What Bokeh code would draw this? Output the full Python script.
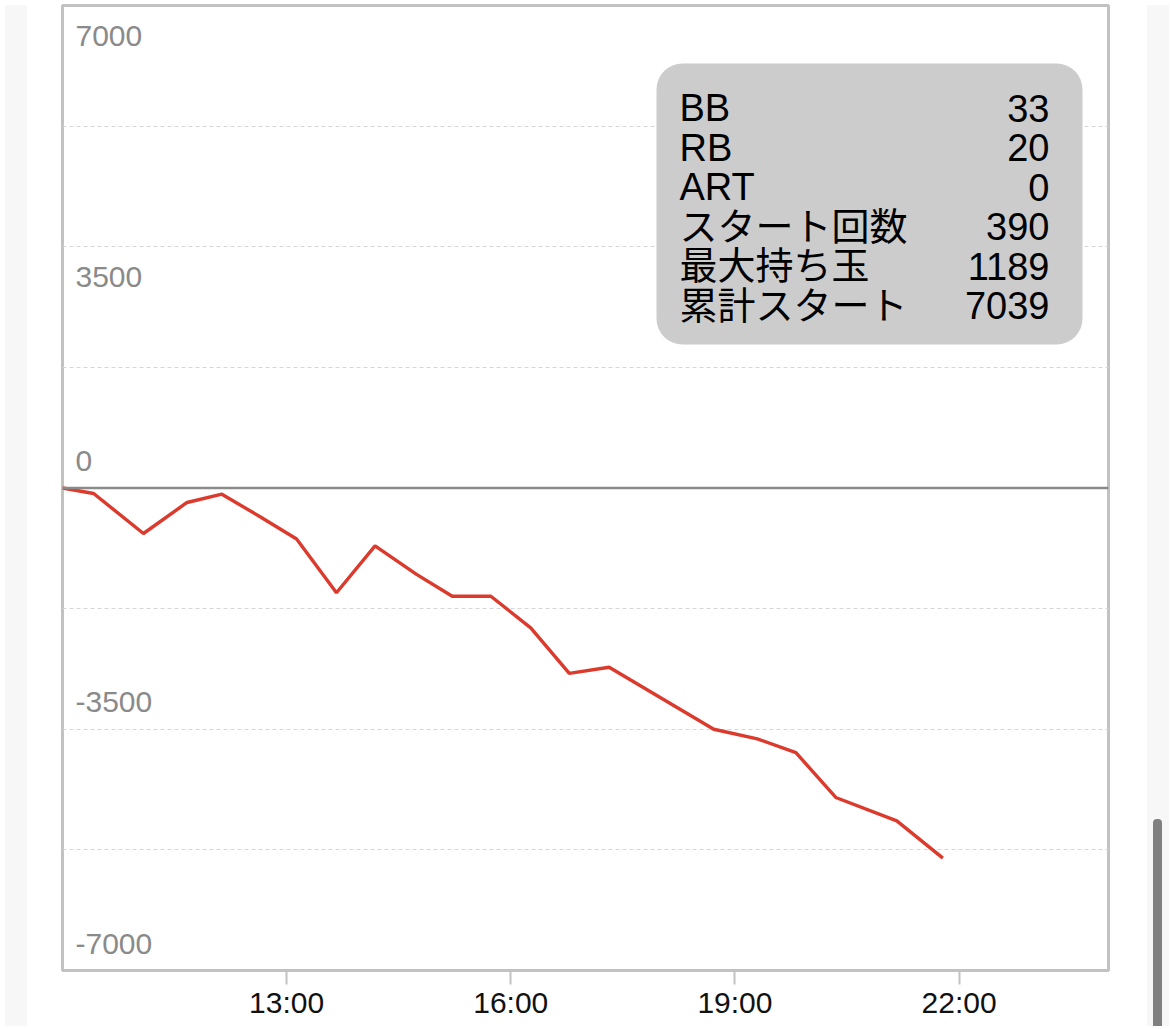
from bokeh.plotting import figure
from bokeh.models import (Range1d, FixedTicker, Span, BoxAnnotation, ColumnDataSource, Div)
from bokeh.layouts import row
from bokeh.core.properties import value
from bokeh.embed import file_html
from bokeh.resources import INLINE

# ---------------- data ----------------
times = ["10:00", "10:25", "11:05", "11:40", "12:08", "12:39", "13:08", "13:40",
         "14:11", "14:44", "15:13", "15:44", "16:16", "16:47", "17:19", "18:43",
         "19:18", "19:49", "20:21", "21:10", "21:47"]
diff = [0, -80, -660, -210, -90, -420, -740, -1520, -840, -1250, -1570, -1570,
        -2030, -2690, -2600, -3500, -3640, -3840, -4490, -4830, -5370]

x_ticks = [13, 16, 19, 22]
x_tick_labels = ["13:00", "16:00", "19:00", "22:00"]
y_label_vals = [7000, 3500, 0, -3500, -7000]
y_grid_vals = [-5250, -3500, -1750, 1750, 3500, 5250]

stat_labels = ["BB", "RB", "ART", "スタート回数", "最大持ち玉", "累計スタート"]
stat_values = ["33", "20", "0", "390", "1189", "7039"]

# ---------------- helpers ----------------
def to_hours(t):
    h, m = t.split(":")
    return int(h) + int(m) / 60.0

X0, X1, Y0, Y1 = 10, 24, -7000, 7000
RX0, RX1, RY0, RY1 = 62.0, 1108.0, 6.0, 971.0
def px2x(px):
    return X0 + (px - RX0) / (RX1 - RX0) * (X1 - X0)
def py2y(py):
    return Y1 - (py - RY0) / (RY1 - RY0) * (Y1 - Y0)

LATIN = "Liberation Sans"
MIXED = "Liberation Sans, Noto Sans CJK JP"
H = 1021

p = figure(width=1110, height=H, output_backend="svg", toolbar_location=None,
           x_range=Range1d(X0, X1), y_range=Range1d(Y0, Y1),
           min_border_left=30, min_border_right=34, min_border_top=5, min_border_bottom=50)
p.background_fill_color = "white"
p.border_fill_color = "white"
p.outline_line_color = "#c2c2c2"
p.outline_line_width = 3

p.yaxis.visible = False
xa = p.xaxis[0]
xa.ticker = FixedTicker(ticks=x_ticks)
xa.major_label_overrides = {t: l for t, l in zip(x_ticks, x_tick_labels)}
xa.axis_line_color = None
xa.minor_tick_line_color = None
xa.major_tick_in = 0
xa.major_tick_out = 14
xa.major_tick_line_color = "#c2c2c2"
xa.major_tick_line_width = 2
xa.major_label_standoff = 1
xa.major_label_text_font = LATIN
xa.major_label_text_font_size = "30px"
xa.major_label_text_color = "#111111"

p.xgrid.visible = False
p.ygrid.ticker = FixedTicker(ticks=y_grid_vals)
p.ygrid.grid_line_color = "#d6d6d6"
p.ygrid.grid_line_dash = "4 3"
p.ygrid.grid_line_width = 1

p.add_layout(Span(location=0, dimension="width", line_color="#8a8a8a", line_width=2.5))

ysrc = ColumnDataSource(dict(
    x=[X0] * len(y_label_vals),
    y=y_label_vals,
    t=[str(v) for v in y_label_vals],
    off=[30 if v > 0 else -27 for v in y_label_vals],
))
p.text(x="x", y="y", text="t", source=ysrc, x_offset=13, y_offset="off",
       text_font=value(LATIN), text_font_size="30px", text_color="#8a8a8a",
       text_baseline="alphabetic", text_align="left")

hours = [to_hours(t) for t in times]
p.line(hours, diff, line_color="#db3a2c", line_width=3.4)

box = BoxAnnotation(left=px2x(656), right=px2x(1082), top=py2y(64), bottom=py2y(345),
                    fill_color="#cccccc", fill_alpha=1.0, line_color=None,
                    border_radius=26)
p.add_layout(box)

row_base = [py2y(120.5 + 39.5 * i) for i in range(len(stat_labels))]
r1 = p.text(x=[px2x(679)] * len(stat_labels), y=row_base, text=stat_labels,
            y_offset=-12,
            text_font=value(MIXED), text_font_size="38px", text_color="black",
            text_baseline="alphabetic", text_align="left")
r2 = p.text(x=[px2x(1049)] * len(stat_values), y=row_base, text=stat_values,
            y_offset=-12,
            text_font=value(LATIN), text_font_size="38px", text_color="black",
            text_baseline="alphabetic", text_align="right")
r1.level = "overlay"
r2.level = "overlay"

left_strip = Div(text="", width=22, height=H,
                 styles={"background-color": "#f7f7f7"})
right_strip = Div(
    text='<div style="margin:0;padding-top:814px;padding-left:6px;">'
         '<div style="width:9px;height:210px;background:#808080;border-radius:4px 4px 0 0;"></div></div>',
    width=22, height=H, styles={"background-color": "#f7f7f7", "overflow": "hidden"})

layout = row(left_strip, p, right_strip)
open("out.html", "w").write(file_html(layout, INLINE))
